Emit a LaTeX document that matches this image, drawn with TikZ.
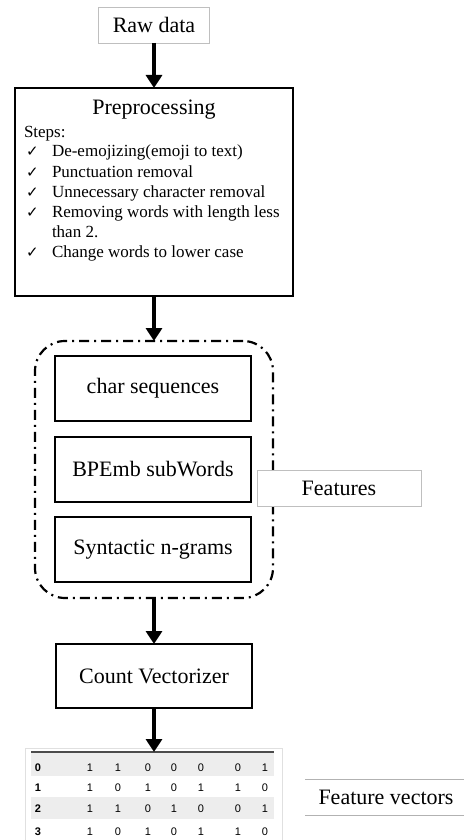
\documentclass[tikz,border=0pt]{standalone}
\usepackage{fontspec}
\setmainfont{Liberation Serif}
\newfontfamily\tablefont{Liberation Sans}
\newfontfamily\symfont{DejaVu Sans}
\usetikzlibrary{arrows.meta}

\begin{document}
\begin{tikzpicture}[x=1pt,y=-1pt,
  every node/.style={inner sep=0pt, outer sep=0pt},
  big/.style={font=\fontsize{22}{26}\selectfont},
  small/.style={font=\fontsize{17}{20}\selectfont},
  stepbox/.style={draw=black, line width=2pt, fill=white, minimum width=196pt, minimum height=65pt, big},
  labelbox/.style={draw=black!25, line width=0.8pt, fill=white, big},
  flow/.style={line width=4pt, -{Triangle[width=16pt,length=13pt]}},
  group/.style={draw=black, line width=2.2pt, rounded corners=30pt,
                dash pattern=on 10pt off 5pt on 2pt off 5pt},
  cell/.style={font=\tablefont\fontsize{11}{12}\selectfont, anchor=base},
  tick/.style={font=\symfont\fontsize{15}{17}\selectfont, anchor=base west},
  item/.style={small, anchor=base west}
]
\useasboundingbox (0,0) rectangle (464,840);

% input
\node[labelbox, minimum width=111pt, minimum height=36pt] (raw) at (154,25) {Raw data};

% preprocessing block
\node[draw=black, line width=2pt, minimum width=278pt, minimum height=208pt] (pre) at (154,192) {};
\node[big, anchor=base] (pretitle) at (154,115) {Preprocessing};
\node[small, anchor=base west] (s0) at (24,138) {Steps:};
\node[tick] (t1) at (26,157) {✓};
\node[item] (s1) at (52,157) {De-emojizing(emoji to text)};
\node[tick] (t2) at (26,177) {✓};
\node[item] (s2) at (52,177) {Punctuation removal};
\node[tick] (t3) at (26,197) {✓};
\node[item] (s3) at (52,197) {Unnecessary character removal};
\node[tick] (t4) at (26,217) {✓};
\node[item] (s4) at (52,217) {Removing words with length less};
\node[item] (s5) at (52,237) {than 2.};
\node[tick] (t6) at (26,257) {✓};
\node[item] (s6) at (52,257) {Change words to lower case};

% feature extraction group
\node[group, minimum width=238pt, minimum height=257pt] (feat) at (154,469.5) {};
\node[stepbox] (chars) at (153,388.5) {char sequences};
\node[stepbox] (bpe) at (153,469.5) {BPEmb subWords};
\node[stepbox] (syn) at (153,549.5) {Syntactic n-grams};
\node[labelbox, minimum width=164pt, minimum height=36pt] (featlbl) at (339,488) {Features};

% vectorizer
\node[stepbox, minimum height=64pt] (cv) at (154,676) {Count Vectorizer};

% output table
\node[draw=black!12, line width=0.6pt, minimum width=257pt, minimum height=102pt, anchor=north west] (tbl) at (25,748) {};
\fill[black!7] (31,752) rectangle (274,776);
\fill[black!7] (31,797) rectangle (274,819);
\draw[black!70, line width=1.3pt] (31,752) -- (274,752);
\coordinate (tbltop) at (154,752);
\foreach \r/\y/\vals in {0/771/{1,1,0,0,0,0,1},
                         1/791/{1,0,1,0,1,1,0},
                         2/812/{1,1,0,1,0,0,1},
                         3/835/{1,0,1,0,1,1,0}} {
  \node[cell, font=\tablefont\bfseries\fontsize{11}{12}\selectfont] (idx\r) at (38,\y) {\r};
  \foreach \v [count=\c] in \vals {
    \pgfmathsetmacro{\xx}{{0,90,118,148,174,201,238,265}[\c]}
    \node[cell] (c\r-\c) at (\xx,\y) {\v};
  }
}

\draw[black!30, line width=0.8pt] (305,779) -- (464,779);
\draw[black!30, line width=0.8pt] (305,815) -- (464,815);
\node[big] (fv) at (386,797) {Feature vectors};

% flow
\draw[flow] (raw.south) -- (pre.north);
\draw[flow] (pre.south) -- (feat.north);
\draw[flow] (feat.south) -- (cv.north);
\draw[flow] (cv.south) -- (tbltop);
\end{tikzpicture}
\end{document}
